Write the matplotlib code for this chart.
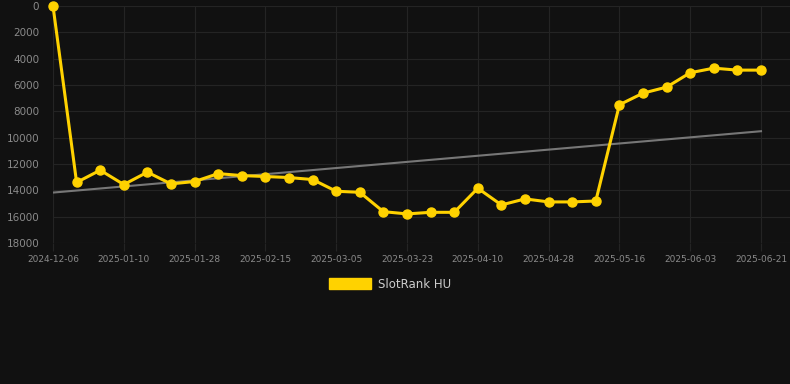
import numpy as np
import matplotlib
matplotlib.use("Agg")
import matplotlib.pyplot as plt
from matplotlib.patches import Patch

tick_labels = ["2024-12-06", "2025-01-10", "2025-01-28", "2025-02-15", "2025-03-05",
               "2025-03-23", "2025-04-10", "2025-04-28", "2025-05-16", "2025-06-03",
               "2025-06-21"]
rank = [0, 13400, 12470, 13560, 12620, 13510, 13330, 12730, 12880, 12950,
        13030, 13180, 14070, 14150, 15620, 15790, 15670, 15670, 13840, 15110,
        14650, 14880, 14880, 14810, 7500, 6620, 6160, 5070, 4720, 4870, 4870]
trend_ends = [14170, 9510]
series_name = "SlotRank HU"

BG = "#111111"
GRID = "#242424"
GOLD = "#FFD200"

fig = plt.figure(figsize=(7.9, 3.84), dpi=100, facecolor=BG)
ax = fig.add_axes([53/790, 1-243/384, 1-53/790, (243-6)/384])
ax.set_facecolor(BG)

x = np.arange(len(rank))
ax.plot(x, rank, color=GOLD, lw=2.2, marker="o", ms=6.5, zorder=3, clip_on=False)

ax.plot([x[0], x[-1]], trend_ends, color="#777777", lw=1.5, zorder=2)

ax.set_ylim(18000, 0)
ax.set_xlim(0, (790-53)/((761-53)/30))
ax.set_yticks(np.arange(0, 18001, 2000))
ax.set_xticks(np.arange(0, len(rank), 3))
ax.set_xticklabels(tick_labels)
ax.grid(True, color=GRID, lw=0.8)
for s in ax.spines.values():
    s.set_visible(False)
ax.tick_params(axis="y", length=0, pad=10, labelsize=7.5, labelcolor="#8a8a8a")
ax.tick_params(axis="x", length=6, color=GRID, pad=3, labelsize=6.5, labelcolor="#8a8a8a")

fig.legend(handles=[Patch(facecolor=GOLD, edgecolor=GOLD)], labels=[series_name],
           loc="center", bbox_to_anchor=(390/790, 1-284/384), frameon=False,
           handlelength=3.6, handleheight=1.0, handletextpad=0.6,
           fontsize=8.5, labelcolor="#cccccc")

fig.savefig("out.png", dpi=100, facecolor=BG)
